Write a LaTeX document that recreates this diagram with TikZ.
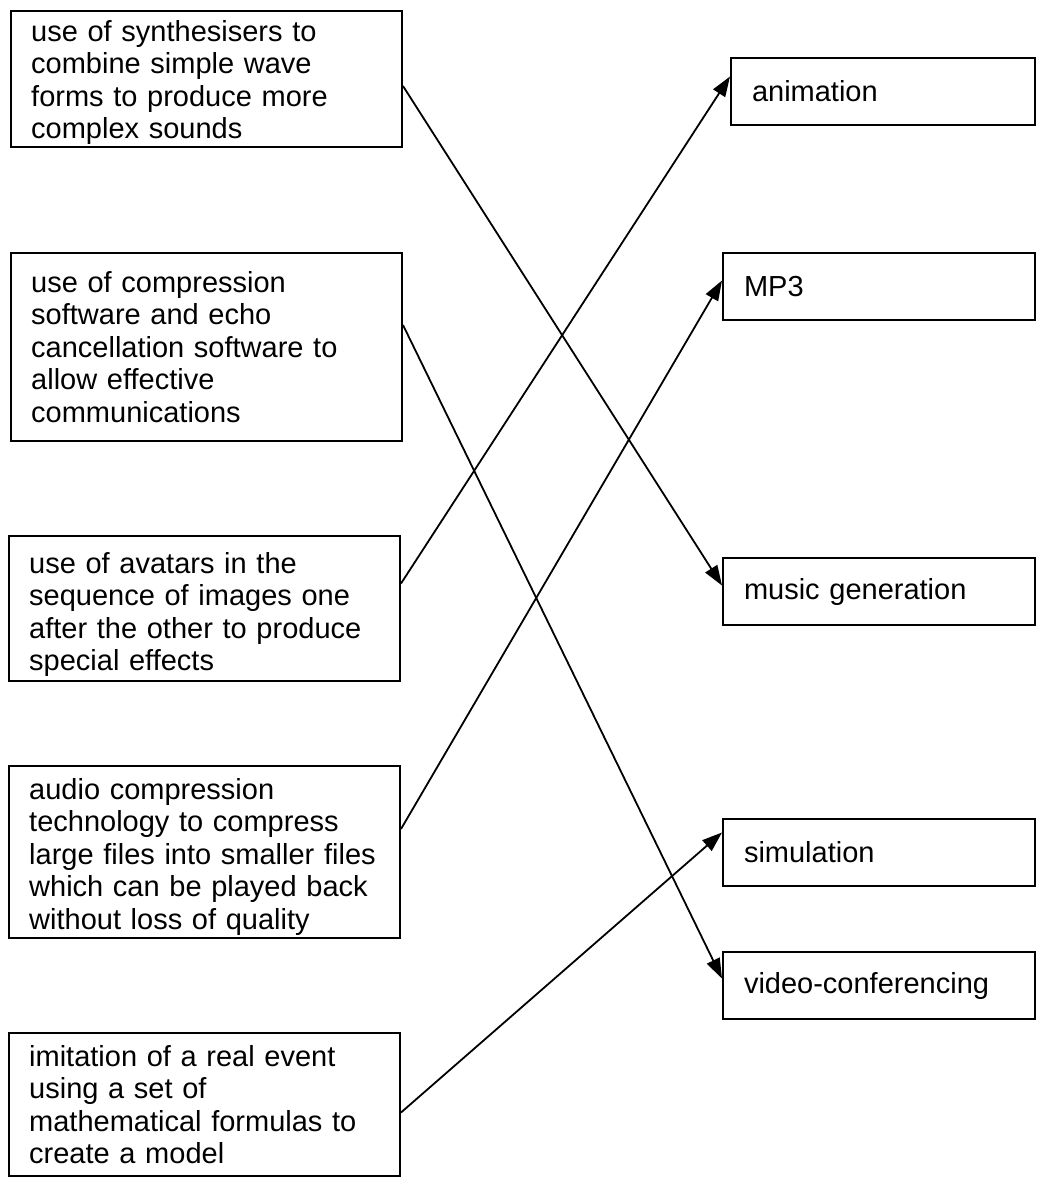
\documentclass[tikz,border=0pt]{standalone}
\usepackage{fontspec}
\setmainfont{Liberation Sans}
\usetikzlibrary{arrows.meta}
\begin{document}
\begin{tikzpicture}[x=1pt,y=-1pt,
  lbox/.style={draw, line width=2pt, rectangle, anchor=north west, inner sep=0pt, minimum width=391pt},
  ltext/.style={anchor=north west, inner sep=0pt, text width=380pt, align=left, font=\fontsize{29}{32.5}\selectfont},
  rbox/.style={draw, line width=2pt, rectangle, anchor=north west, inner xsep=21pt, inner ysep=0pt,
    minimum height=67pt, align=left, font=\fontsize{29}{32.5}\selectfont},
  conn/.style={line width=1.8pt, -{Triangle[length=20pt,width=14pt]}}]
\useasboundingbox (0,0) rectangle (1040,1180);
% left boxes
\node[lbox, minimum height=136pt] (b1) at (10,10) {};
\node[ltext] (t1) at (31,18.5) {\strut use of synthesisers to\\combine simple wave\\forms to produce more\\complex sounds};
\node[lbox, minimum height=188pt] (b2) at (10,252) {};
\node[ltext] (t2) at (31,269.5) {\strut use of compression\\software and echo\\cancellation software to\\allow effective\\communications};
\node[lbox, minimum height=145pt] (b3) at (8,535) {};
\node[ltext] (t3) at (29,550.5) {\strut use of avatars in the\\sequence of images one\\after the other to produce\\special effects};
\node[lbox, minimum height=172pt] (b4) at (8,765) {};
\node[ltext] (t4) at (29,776.5) {\strut audio compression\\technology to compress\\large files into smaller files\\which can be played back\\without loss of quality};
\node[lbox, minimum height=143pt] (b5) at (8,1032) {};
\node[ltext] (t5) at (29,1043.5) {\strut imitation of a real event\\using a set of\\mathematical formulas to\\create a model};
% right boxes
\node[rbox, minimum width=304pt, text width=262pt] (r1) at (730,57) {animation};
\node[rbox, minimum width=312pt, text width=270pt] (r2) at (722,252) {MP3};
\node[rbox, minimum width=312pt, text width=270pt] (r3) at (722,557) {music generation};
\node[rbox, minimum width=312pt, text width=270pt] (r4) at (722,818) {simulation};
\node[rbox, minimum width=312pt, text width=270pt] (r5) at (722,951) {video-conferencing};
% connectors
\draw[conn] ([yshift=-7pt]b1.east) -- ([yshift=6pt]r3.west);
\draw[conn] ([yshift=22pt]b2.east) -- ([yshift=7pt]r5.west);
\draw[conn] ([yshift=25pt]b3.east) -- ([yshift=15pt]r1.west);
\draw[conn] ([yshift=23pt]b4.east) -- ([yshift=6pt]r2.west);
\draw[conn] ([yshift=-8pt]b5.east) -- ([yshift=20pt]r4.west);
\end{tikzpicture}
\end{document}
